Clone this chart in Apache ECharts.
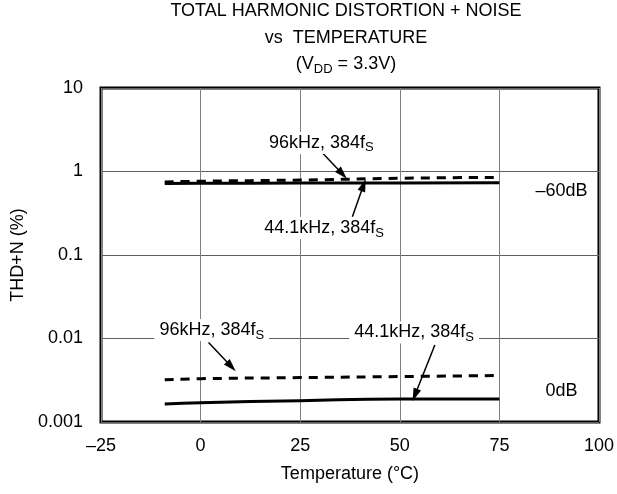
<!DOCTYPE html>
<html>
<head>
<meta charset="utf-8">
<script src="https://cdn.jsdelivr.net/npm/echarts@6/dist/echarts.min.js"></script>
<style>
html,body{margin:0;padding:0;background:#fff;}
#chart{width:617px;height:494px;}
</style>
</head>
<body>
<div id="chart"></div>
<script>
// ---- data ----
var temperatures = [-9, 0, 25, 50, 75];
var thdMinus60_44k = [0.72, 0.722, 0.726, 0.73, 0.732];
var thdMinus60_96k = [0.75, 0.765, 0.79, 0.83, 0.85];
var thd0_44k = [0.00164, 0.0017, 0.0018, 0.00188, 0.00188];
var thd0_96k = [0.0032, 0.0033, 0.0034, 0.0035, 0.0036];
var xTicks = [-25, 0, 25, 50, 75, 100];
var yTicks = [0.001, 0.01, 0.1, 1, 10];
var titleLines = ['TOTAL HARMONIC DISTORTION + NOISE', 'vs  TEMPERATURE', '(V', 'DD', ' = 3.3V)'];

// annotations (data coordinates)
var labelUp96 = [30.3, 2.2];
var arrowUp96 = [[29.9, 1.81], [35.6, 0.933]];
var labelUp44 = [31.0, 0.21];
var arrowUp44 = [[38.1, 0.288], [40.9, 0.689]];
var labelLo96 = [2.8, 0.0126];
var arrowLo96 = [[2.0, 0.00896], [7.7, 0.00462]];
var labelLo44 = [53.6, 0.0118];
var arrowLo44 = [[58.8, 0.00836], [53.8, 0.0021]];
var labelM60 = [90.6, 0.59];
var label0 = [90.6, 0.00232];

function pairs(xs, ys){ return xs.map(function(x,i){return [x, ys[i]];}); }

var FONT = 'Liberation Sans, Arial, Helvetica, sans-serif';
var FS = 18;
var rich = {
  t: {fontSize: FS, fontFamily: FONT, color: '#000', lineHeight: 22},
  s: {fontSize: 13, fontFamily: FONT, color: '#000', lineHeight: 22, padding: [10, 0, 0, 0]}
};

function textPoint(coord, text, bg){
  return {
    coord: coord,
    symbol: 'rect',
    symbolSize: 0,
    label: {
      show: true, position: 'inside', formatter: text, rich: rich,
      backgroundColor: bg ? '#fff' : 'transparent',
      padding: bg ? [0, 5, 0, 5] : 0
    }
  };
}
function arrow(a){
  return [{coord: a[0]}, {coord: a[1], symbol: 'triangle', symbolSize: [8, 13]}];
}

var chart = echarts.init(document.getElementById('chart'), null, {renderer: 'canvas'});
var option = {
  animation: false,
  backgroundColor: '#fff',
  graphic: [
    {type: 'text', x: 346, y: 11, style: {text: titleLines[0], font: FS + 'px ' + FONT, fill: '#000', align: 'center', verticalAlign: 'middle'}},
    {type: 'text', x: 346, y: 38, style: {text: titleLines[1], font: FS + 'px ' + FONT, fill: '#000', align: 'center', verticalAlign: 'middle'}},
    {type: 'text', x: 346, y: 64, style: {
      text: '{t|' + titleLines[2] + '}{s|' + titleLines[3] + '}{t|' + titleLines[4] + '}',
      align: 'center', verticalAlign: 'middle', rich: rich}}
  ],
  grid: {
    left: 101, right: 16, top: 88, bottom: 72,
    show: true, borderColor: '#000', borderWidth: 3, containLabel: false
  },
  xAxis: {
    type: 'value', min: -25, max: 100, interval: 25,
    name: 'Temperature (°C)', nameLocation: 'middle', nameGap: 43,
    nameTextStyle: {fontSize: FS, fontFamily: FONT, color: '#000'},
    axisLine: {show: false}, axisTick: {show: false},
    splitLine: {show: true, lineStyle: {color: '#808080', width: 1}},
    axisLabel: {fontSize: FS, fontFamily: FONT, color: '#000', margin: 15,
      formatter: function(v){ return v < 0 ? '\u2013' + (-v) : String(v); }}
  },
  yAxis: {
    type: 'log', logBase: 10, min: 0.001, max: 10,
    name: 'THD+N (%)', nameLocation: 'middle', nameGap: 72,
    nameTextStyle: {fontSize: FS, fontFamily: FONT, color: '#000'},
    axisLine: {show: false}, axisTick: {show: false},
    splitLine: {show: true, lineStyle: {color: '#606060', width: 1}},
    axisLabel: {fontSize: FS, fontFamily: FONT, color: '#000', margin: 18,
      formatter: function(v){
        var best = yTicks[0];
        yTicks.forEach(function(t){ if (Math.abs(Math.log10(t) - Math.log10(v)) < Math.abs(Math.log10(best) - Math.log10(v))) best = t; });
        return String(best);
      }}
  },
  series: [
    {
      type: 'line', name: '-60dB 44.1kHz', data: pairs(temperatures, thdMinus60_44k),
      showSymbol: false, symbol: 'none', smooth: true,
      lineStyle: {color: '#000', width: 3, type: 'solid'},
      markLine: {
        silent: true, symbol: ['none', 'triangle'], symbolSize: 12,
        lineStyle: {color: '#000', width: 1.5, type: 'solid'},
        itemStyle: {color: '#000'},
        label: {show: false},
        data: [arrow(arrowUp96), arrow(arrowUp44), arrow(arrowLo96), arrow(arrowLo44)]
      },
      markPoint: {
        silent: true,
        data: [
          textPoint(labelUp96, '{t|96kHz, 384f}{s|S}', true),
          textPoint(labelUp44, '{t|44.1kHz, 384f}{s|S}', true),
          textPoint(labelLo96, '{t|96kHz, 384f}{s|S}', true),
          textPoint(labelLo44, '{t|44.1kHz, 384f}{s|S}', true),
          textPoint(labelM60, '{t|\u201360dB}', false),
          textPoint(label0, '{t|0dB}', false)
        ]
      }
    },
    {
      type: 'line', name: '-60dB 96kHz', data: pairs(temperatures, thdMinus60_96k),
      showSymbol: false, symbol: 'none', smooth: true,
      lineStyle: {color: '#000', width: 3, type: [9, 7]}
    },
    {
      type: 'line', name: '0dB 44.1kHz', data: pairs(temperatures, thd0_44k),
      showSymbol: false, symbol: 'none', smooth: true,
      lineStyle: {color: '#000', width: 3, type: 'solid'}
    },
    {
      type: 'line', name: '0dB 96kHz', data: pairs(temperatures, thd0_96k),
      showSymbol: false, symbol: 'none', smooth: true,
      lineStyle: {color: '#000', width: 3, type: [9, 7]}
    }
  ]
};
chart.setOption(option);
</script>
</body>
</html>
